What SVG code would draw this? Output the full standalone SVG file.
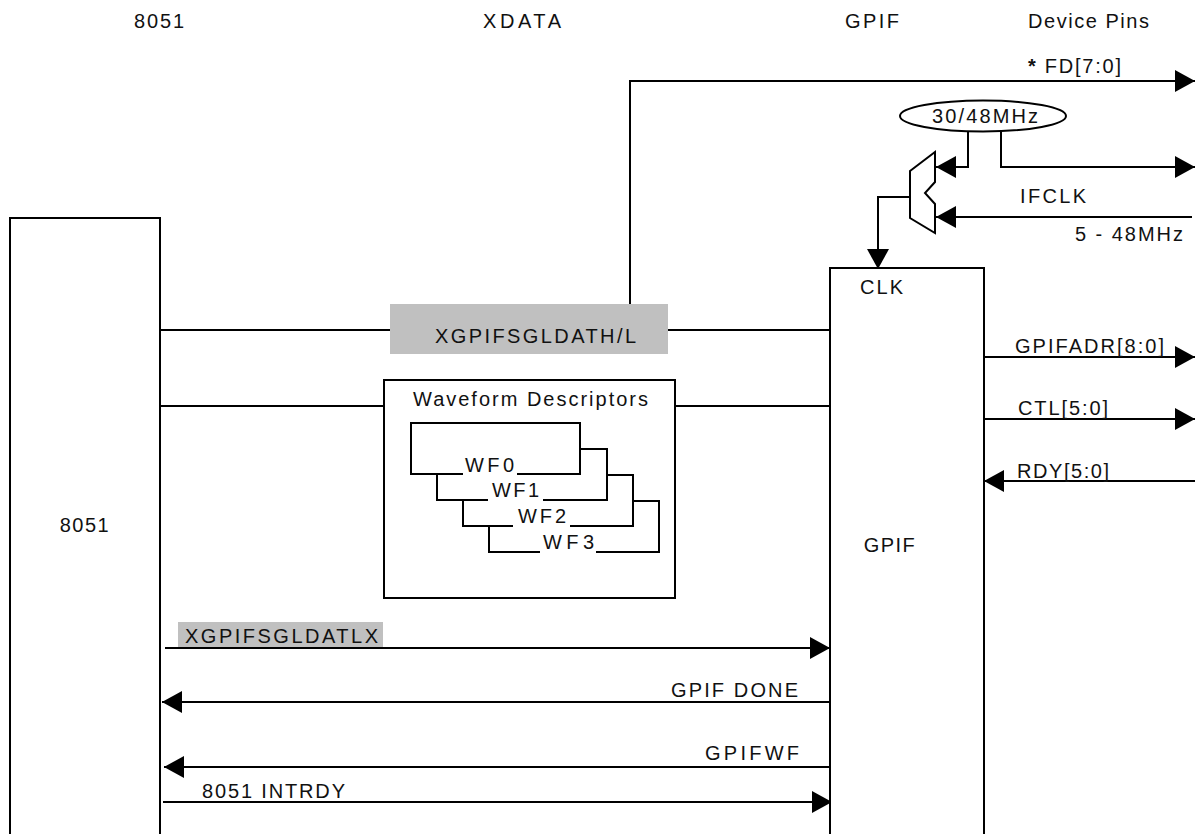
<svg xmlns="http://www.w3.org/2000/svg" width="1195" height="834" viewBox="0 0 1195 834">
<defs>
<marker id="ah" markerUnits="userSpaceOnUse" markerWidth="20" markerHeight="22" refX="20" refY="11" orient="auto">
<path d="M0,0 L20,11 L0,22 z" fill="#000"/>
</marker>
<style>
text{font-family:"Liberation Sans",Arial,sans-serif;font-size:20px;fill:#111;letter-spacing:0}
.c{text-anchor:middle;letter-spacing:1.5px}
.box{fill:#fff;stroke:#000;stroke-width:2}
.ln{fill:none;stroke:#000;stroke-width:2}
.arr{fill:none;stroke:#000;stroke-width:2;marker-end:url(#ah)}
.gray{fill:#c0c0c0}
</style>
</defs>
<rect width="1195" height="834" fill="#fff"/>
<g id="headers">
<text x="134" y="28" textLength="50" lengthAdjust="spacing">8051</text>
<text x="483" y="28" textLength="78" lengthAdjust="spacing">XDATA</text>
<text x="845" y="28" textLength="54" lengthAdjust="spacing">GPIF</text>
<text x="1028" y="28" textLength="121" lengthAdjust="spacing">Device Pins</text>
</g>
<g id="connectors">
<polyline class="arr" points="630,304 630,81 1195,81"/>
<polyline class="arr" points="968,131 968,167 936,167"/>
<polyline class="arr" points="1001,131 1001,167 1195,167"/>
<line class="arr" x1="1192" y1="217" x2="936" y2="217"/>
<polyline class="arr" points="910,197 878,197 878,269"/>
<line class="ln" x1="160" y1="330" x2="390" y2="330"/>
<line class="ln" x1="668" y1="330" x2="830" y2="330"/>
<line class="ln" x1="160" y1="406" x2="384" y2="406"/>
<line class="ln" x1="675" y1="406" x2="830" y2="406"/>
<line class="arr" x1="984" y1="357" x2="1195" y2="357"/>
<line class="arr" x1="984" y1="419" x2="1195" y2="419"/>
<line class="arr" x1="1195" y1="481" x2="984" y2="481"/>
<line class="arr" x1="165" y1="648" x2="830" y2="648"/>
<line class="arr" x1="830" y1="702" x2="162" y2="702"/>
<line class="arr" x1="832" y1="767" x2="164" y2="767"/>
<line class="arr" x1="163" y1="802" x2="832" y2="802"/>
</g>
<g id="fd-label">
<text x="1028" y="73" textLength="93" lengthAdjust="spacing"><tspan font-weight="bold">*</tspan> FD[7:0]</text>
</g>
<g id="osc">
<ellipse class="box" cx="983" cy="116" rx="83" ry="15.5"/>
<text x="932" y="123" textLength="106" lengthAdjust="spacing">30/48MHz</text>
</g>
<g id="mux">
<polygon class="box" points="910,171 935,152 935,182 925,193 935,204 935,233 910,218"/>
</g>
<g id="ifclk-labels">
<text x="1020" y="203" textLength="66" lengthAdjust="spacing">IFCLK</text>
<text x="1075" y="241" textLength="108" lengthAdjust="spacing">5 - 48MHz</text>
</g>
<g id="n8051">
<rect class="box" x="10" y="218" width="150" height="630"/>
<text class="c" x="85" y="532">8051</text>
</g>
<g id="gpif">
<rect class="box" x="830" y="268" width="154" height="580"/>
<text x="860" y="294" textLength="43" lengthAdjust="spacing">CLK</text>
<text class="c" x="890" y="552">GPIF</text>
</g>
<g id="xgpifsgldath">
<rect class="gray" x="390" y="304" width="278" height="50"/>
<text x="435" y="343" textLength="201" lengthAdjust="spacing">XGPIFSGLDATH/L</text>
</g>
<g id="waveform">
<rect class="box" x="384" y="380" width="291" height="218"/>
<text x="413" y="406" textLength="235" lengthAdjust="spacing">Waveform Descriptors</text>
<polyline class="ln" points="463,474 411,474 411,423 580,423 580,474 517,474"/>
<polyline class="ln" points="580,449 607,449 607,500 543,500"/>
<polyline class="ln" points="488,500 437,500 437,474"/>
<polyline class="ln" points="607,475 633,475 633,526 570,526"/>
<polyline class="ln" points="513,526 463,526 463,500"/>
<polyline class="ln" points="633,501 659,501 659,552 596,552"/>
<polyline class="ln" points="540,552 489,552 489,526"/>
<text x="465" y="472" textLength="49" lengthAdjust="spacing">WF0</text>
<text x="492" y="497" textLength="47" lengthAdjust="spacing">WF1</text>
<text x="518" y="523" textLength="48" lengthAdjust="spacing">WF2</text>
<text x="543" y="549" textLength="51" lengthAdjust="spacing">WF3</text>
</g>
<g id="pin-labels">
<text x="1015" y="353" textLength="149" lengthAdjust="spacing">GPIFADR[8:0]</text>
<text x="1018" y="415" textLength="90" lengthAdjust="spacing">CTL[5:0]</text>
<text x="1017" y="478" textLength="92" lengthAdjust="spacing">RDY[5:0]</text>
</g>
<g id="xgpifsgldatlx">
<rect class="gray" x="178" y="622" width="205" height="25"/>
<text x="185" y="643" textLength="193" lengthAdjust="spacing">XGPIFSGLDATLX</text>
</g>
<g id="signal-labels">
<text x="671" y="697" textLength="127" lengthAdjust="spacing">GPIF DONE</text>
<text x="705" y="760" textLength="94" lengthAdjust="spacing">GPIFWF</text>
<text x="202" y="798" textLength="143" lengthAdjust="spacing">8051 INTRDY</text>
</g>
</svg>
